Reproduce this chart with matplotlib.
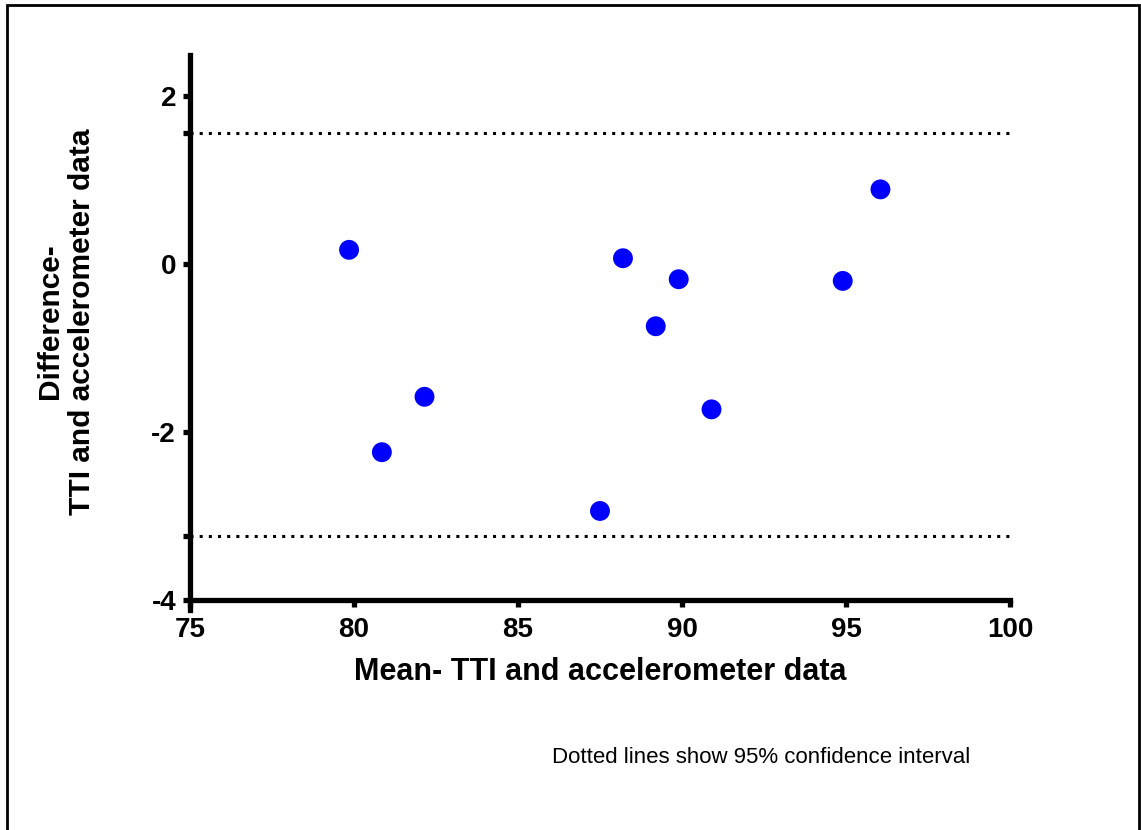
import matplotlib.pyplot as plt
from matplotlib.patches import Rectangle

plt.rcParams['font.family'] = ['Liberation Sans', 'DejaVu Sans']
plt.rcParams['axes.unicode_minus'] = False

# Bland-Altman: mean vs difference, TTI and accelerometer
mean_vals = [79.85, 80.85, 82.15, 87.5, 88.2, 89.2, 89.9, 90.9, 94.9, 96.05]
diff_vals = [0.17, -2.24, -1.58, -2.94, 0.07, -0.74, -0.18, -1.73, -0.20, 0.89]
ci_upper = 1.56
ci_lower = -3.24

fig = plt.figure(figsize=(11.41, 8.30), dpi=100)
ax = fig.add_axes([0.1665, 0.265, 0.7187, 0.6687])

ax.scatter(mean_vals, diff_vals, s=205, color='#0000ff', edgecolors='none', zorder=3)
for ci in (ci_upper, ci_lower):
    ax.plot([75, 100], [ci, ci], color='black', lw=2.2, dashes=(1, 2),
            dash_capstyle='butt', clip_on=False)

ax.set_xlim(75, 100)
ax.set_ylim(-4.12, 2.49)
ax.set_xticks([75, 80, 85, 90, 95, 100])
ax.set_yticks([-4, -2, 0, 2])
ax.set_yticks([ci_lower, ci_upper], minor=True)

for s in ('top', 'right'):
    ax.spines[s].set_visible(False)
ax.spines['bottom'].set_position(('data', -4))
for s in ('left', 'bottom'):
    ax.spines[s].set_linewidth(3.8)
ax.spines['bottom'].set_capstyle('projecting')

ax.tick_params(axis='both', which='both', direction='out', length=5, width=3.8)
ax.tick_params(axis='x', which='major', labelsize=20, pad=7)
ax.tick_params(axis='y', which='major', labelsize=20, pad=5)
for lbl in ax.get_xticklabels() + ax.get_yticklabels():
    lbl.set_fontweight('bold')

ax.set_xlabel('Mean- TTI and accelerometer data', fontsize=22, fontweight='bold', labelpad=10)
ax.set_ylabel('Difference-\nTTI and accelerometer data', fontsize=21.5, fontweight='bold',
              linespacing=1.2)
ax.yaxis.set_label_coords(-0.114, 0.52)

fig.text(0.484, 0.087, 'Dotted lines show 95% confidence interval', fontsize=16,
         ha='left', va='center')

# outer frame
fig.patches.append(Rectangle((0.006, -0.01), 0.992, 1.004, transform=fig.transFigure,
                             fill=False, edgecolor='black', lw=2))

fig.savefig('out.png', dpi=100)
